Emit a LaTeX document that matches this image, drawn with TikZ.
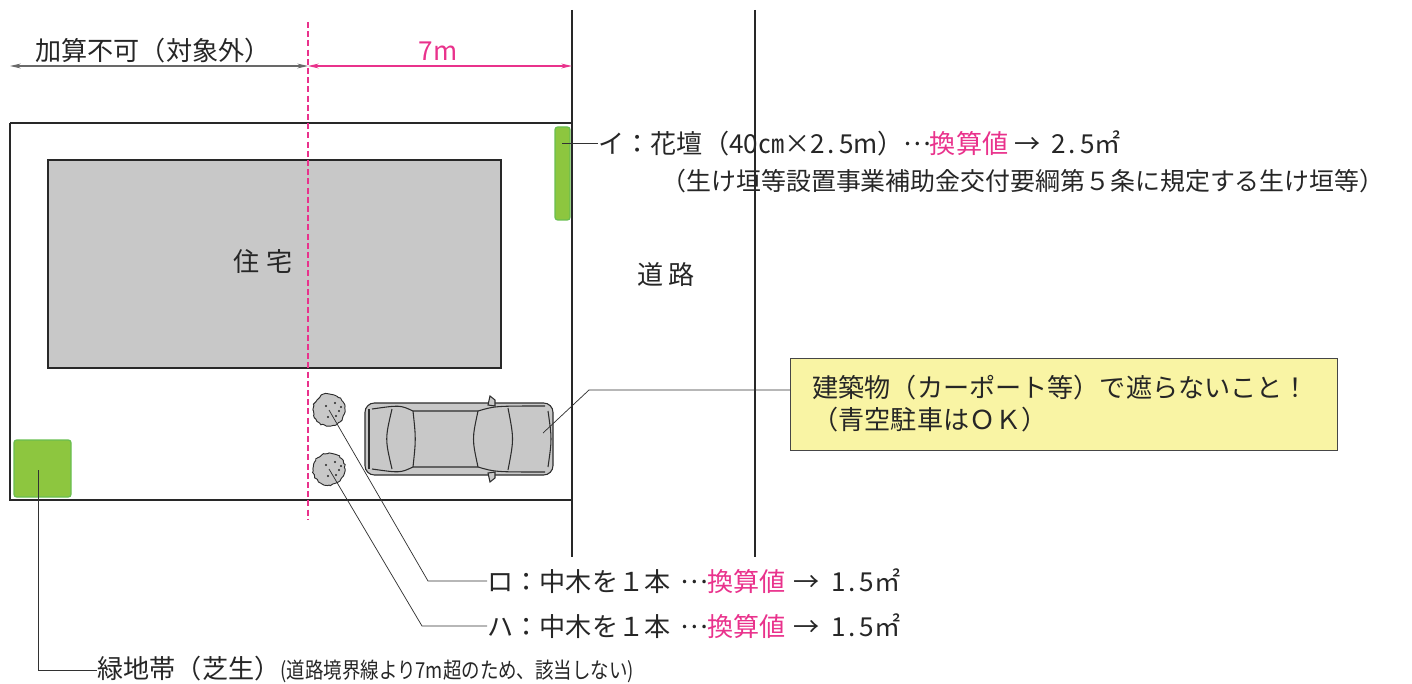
\documentclass[tikz,border=0pt]{standalone}
\usepackage{fontspec}
\setmainfont{Noto Sans CJK JP}
\usetikzlibrary{arrows.meta,decorations.pathmorphing}

\definecolor{hotpink}{RGB}{233,50,140}
\definecolor{inkdark}{RGB}{38,38,38}
\newcommand{\dotnum}[2]{#1\hspace{0.1em}.\hspace{0.16em}#2}
\newcommand{\midots}{\makebox[1em]{\raisebox{0.3em}{…}}}

\tikzset{every picture/.style={line width=0.75pt}}
\tikzset{
  lotline/.style={draw={rgb, 255:red, 40; green, 40; blue, 40 }, line width=1.1pt},
  leader/.style={draw={rgb, 255:red, 50; green, 50; blue, 50 }, line width=0.55pt},
  txt/.style={anchor=west, inner sep=0pt, text=inkdark, font=\fontsize{19.6}{24}\selectfont},
  greenbed/.style={fill={rgb, 255:red, 141; green, 198; blue, 63 }, draw={rgb, 255:red, 105; green, 190; blue, 80 }, line width=0.9pt, rounded corners=2pt},
  carline/.style={draw={rgb, 255:red, 45; green, 45; blue, 45 }, line width=0.8pt},
  treeball/.style={fill={rgb, 255:red, 200; green, 200; blue, 200 }, draw={rgb, 255:red, 45; green, 45; blue, 45 }, line width=0.7pt, decorate, decoration={random steps, segment length=1.6pt, amplitude=0.6pt}},
  notebox/.style={draw={rgb, 255:red, 70; green, 70; blue, 70 }, fill={rgb, 255:red, 249; green, 244; blue, 164 }, line width=0.8pt, inner sep=0pt, anchor=north west, minimum width=410.25pt, minimum height=69pt}
}

\begin{document}
\begin{tikzpicture}[x=0.75pt,y=0.75pt,yscale=-1,xscale=1]
	\useasboundingbox (0,0) rectangle (1412,684);

	%Road lines
	\draw [lotline]  (572,10) -- (572,557) ;
	\draw [lotline]  (755,10) -- (755,557) ;
	%Lot outline
	\draw [lotline]  (10,123) -- (572,123) (10,123) -- (10,500) -- (572,500) ;
	%House
	\draw [lotline, fill={rgb, 255:red, 200; green, 200; blue, 200 }]  (48,160) rectangle (501,368) ;

	%7m boundary (dashed)
	\draw [draw=hotpink, line width=1.7pt, dash pattern={on 4.5pt off 2.4pt}]  (308,22) -- (308,520) ;
	%Dimension lines
	\coordinate (dimL) at (10,66) ;
	\coordinate (dimM) at (308,66) ;
	\coordinate (dimR) at (572,66) ;
	\draw [draw={rgb, 255:red, 105; green, 105; blue, 105 }, line width=1pt, {Stealth[length=8pt,width=3.6pt]}-{Stealth[length=8pt,width=3.6pt]}]  (dimL) -- (dimM) ;
	\draw [draw=hotpink, line width=1pt, {Stealth[length=8pt,width=3.6pt]}-{Stealth[length=8pt,width=3.6pt]}]  (dimM) -- (dimR) ;

	% Text Node
	\node [txt, anchor=center] (outside) at (153,51) {加算不可（対象外）};
	% Text Node
	\node [txt, anchor=center, text=hotpink] (dist) at (438,51) {7m};
	% Text Node
	\node [txt, anchor=center] (house) at (263,262) {住\hspace{0.25em}宅};
	% Text Node
	\node [txt, anchor=center] (road) at (666,275) {道\hspace{0.22em}路};

	%Flower bed (i)
	\draw [greenbed]  (555,127) rectangle (570,220) ;
	\coordinate (bedA) at (562,143) ;
	%Lawn strip
	\draw [greenbed]  (14,440) rectangle (71,497) ;
	\coordinate (lawn) at (38,470) ;

	%Trees
	\coordinate (treeA) at (329,410) ;
	\coordinate (treeB) at (329,469) ;
	\draw [treeball]  (treeA) circle [x radius= 16, y radius= 16] ;
	\draw [treeball]  (treeB) circle [x radius= 16, y radius= 16] ;
	\foreach \dx/\dy in {-3/-4, 6/-7, 10/1, 7/6, -1/7, 12/-3} {
		\fill [inkdark] (329+\dx,410+\dy) circle [x radius= 1.1, y radius= 1.1] ;
		\fill [inkdark] (329+\dx,469+\dy) circle [x radius= 1.1, y radius= 1.1] ;
	}

	%Car
	\draw [carline, fill={rgb, 255:red, 200; green, 200; blue, 200 }, rounded corners=7pt]  (365,403) rectangle (553,475) ;
	\draw [carline]  (369,409) -- (369,469) ;
	\draw [carline]  (548,411) .. controls (552,439) .. (548,467) ;
	\draw [carline]  (372,409) .. controls (400,405) .. (413,411) -- (478,411) .. controls (495,406) .. (545,406) ;
	\draw [carline]  (372,469) .. controls (400,473) .. (413,467) -- (478,467) .. controls (495,472) .. (545,472) ;
	\draw [carline]  (392,409) .. controls (385,439) .. (392,469) ;
	\draw [carline]  (413,411) .. controls (416,439) .. (413,467) ;
	\draw [carline]  (478,411) .. controls (472,439) .. (478,467) ;
	\draw [carline]  (508,408) .. controls (514,439) .. (508,470) ;
	\draw [carline, fill={rgb, 255:red, 200; green, 200; blue, 200 }]  (488,405) -- (490,396) -- (495,400) -- (495,406) -- cycle ;
	\draw [carline, fill={rgb, 255:red, 200; green, 200; blue, 200 }]  (488,473) -- (490,482) -- (495,478) -- (495,472) -- cycle ;
	\coordinate (carFront) at (543,433) ;

	%Note box
	\node [notebox] (note) at (790,358) {};
	% Text Node
	\node [txt, align=left] (noteTxt) at (812,404) {建築物（カーポート等）で遮らないこと！\\（青空駐車はＯＫ）};

	% Text Node
	\node [txt] (lblI) at (598,143) {イ：花壇（40㎝×\dotnum{2}{5}m）\midots\textcolor{hotpink}{換算値}\hspace{0.25em}→\hspace{0.4em}\dotnum{2}{5}㎡};
	% Text Node
	\node [txt, font=\fontsize{18.7}{24}\selectfont] (lblIsub) at (661,181) {（生け垣等設置事業補助金交付要綱第５条に規定する生け垣等）};
	% Text Node
	\node [txt] (lblRo) at (487,581) {ロ：中木を１本\hspace{0.4em}\midots\textcolor{hotpink}{換算値}\hspace{0.3em}→\hspace{0.45em}\dotnum{1}{5}㎡};
	% Text Node
	\node [txt] (lblHa) at (487,626) {ハ：中木を１本\hspace{0.4em}\midots\textcolor{hotpink}{換算値}\hspace{0.3em}→\hspace{0.45em}\dotnum{1}{5}㎡};
	% Text Node
	\node [txt] (lblLawn) at (97,669) {緑地帯（芝生）\scalebox{0.84}[1]{\fontsize{16.5}{20}\selectfont (道路境界線より7m超のため、該当しない)}};

	%Leaders
	\coordinate (bendCar) at (589,390) ;
	\coordinate (bendRo) at (428,581) ;
	\coordinate (bendHa) at (422,626) ;
	\coordinate (bendLawn) at (38,670) ;
	\draw [leader]  (bedA) -- (lblI.west) ;
	\draw [leader]  (carFront) -- (bendCar) -- (bendCar -| note.west) ;
	\draw [leader]  (treeA) -- (bendRo) -- (lblRo.west) ;
	\draw [leader]  (treeB) -- (bendHa) -- (lblHa.west) ;
	\draw [leader]  (lawn) -- (bendLawn) -- (bendLawn -| lblLawn.west) ;

\end{tikzpicture}
\end{document}
